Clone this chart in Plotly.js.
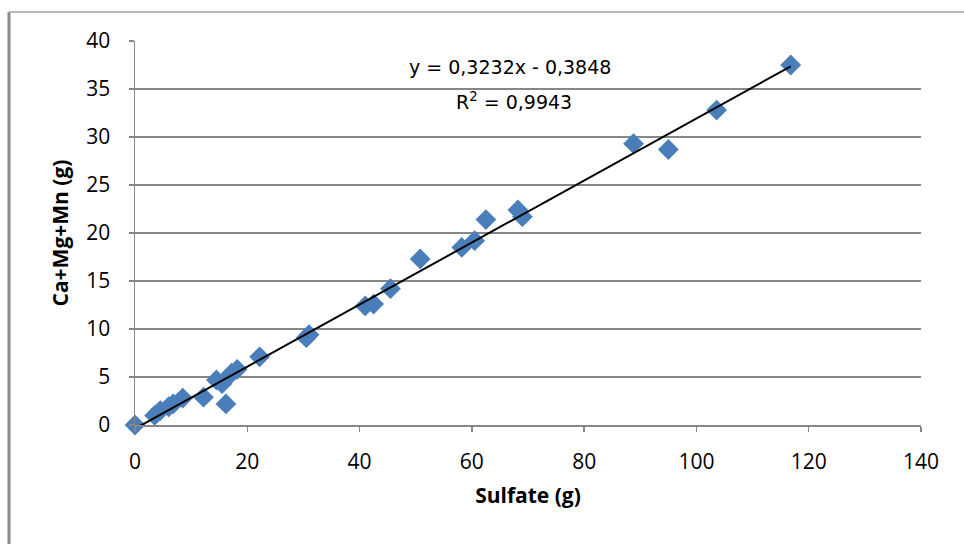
<!DOCTYPE html>
<html>
<head>
<meta charset="utf-8">
<script src="https://cdn.plot.ly/plotly-3.0.1.min.js"></script>
<style>html,body{margin:0;padding:0;background:#fff;}#chart{width:964px;height:544px;}</style>
</head>
<body>
<div id="chart"></div>
<script>
// Sulfate (g) on x, Ca+Mg+Mn (g) on y
const sulfate = [0, 3.5, 4.5, 6.0, 6.8, 8.5, 12.2, 14.5, 15.5, 16.2, 17.2, 18.2, 22.2, 30.5, 31.0,
                 41.0, 42.5, 45.5, 50.8, 58.2, 60.5, 62.5, 68.2, 69.0, 88.8, 95.0, 103.6, 116.8];
const camgmn  = [0, 1.0, 1.5, 1.9, 2.2, 2.8, 2.9, 4.7, 4.3, 2.2, 5.4, 5.8, 7.1, 9.1, 9.4,
                 12.4, 12.6, 14.2, 17.3, 18.5, 19.2, 21.4, 22.4, 21.7, 29.3, 28.7, 32.8, 37.5];
const slope = 0.3232;
const intercept = -0.3848;
const r2 = 0.9943;
const xTicks = [0, 20, 40, 60, 80, 100, 120, 140];
const yTicks = [0, 5, 10, 15, 20, 25, 30, 35, 40];

const xMin = Math.min(...sulfate), xMax = Math.max(...sulfate);
const fmt = v => v.toFixed(4).replace('.', ',');

const traces = [
  {
    x: sulfate, y: camgmn, type: 'scatter', mode: 'markers',
    marker: {symbol: 'diamond', size: 16, color: '#4A7EBB', line: {width: 0}},
    hoverinfo: 'x+y', cliponaxis: false
  },
  {
    x: [xMin, xMax], y: [slope * xMin + intercept, slope * xMax + intercept],
    type: 'scatter', mode: 'lines', line: {color: '#000000', width: 2},
    hoverinfo: 'skip', cliponaxis: false
  }
];

const grey = '#878787';
const layout = {
  width: 964, height: 544,
  margin: {l: 135, r: 43, t: 41, b: 119},
  paper_bgcolor: '#ffffff', plot_bgcolor: '#ffffff',
  showlegend: false,
  font: {family: '"Open Sans", sans-serif', color: '#000000'},
  xaxis: {
    range: [0, 140], tickvals: xTicks, ticktext: xTicks.map(String),
    showgrid: false, zeroline: false,
    showline: true, linecolor: grey, linewidth: 1.5,
    ticks: 'outside', ticklen: 5, tickcolor: grey, tickwidth: 1.5,
    tickfont: {size: 21, family: '"Open Sans", sans-serif', color: '#000'},
    ticklabelstandoff: 12,
    title: {text: '<b>Sulfate (g)</b>', font: {size: 21, family: '"Open Sans", sans-serif', color: '#000'}, standoff: 14},
    automargin: false, fixedrange: true
  },
  yaxis: {
    range: [0, 40], tickvals: yTicks, ticktext: yTicks.map(String),
    showgrid: true, gridcolor: grey, gridwidth: 1.5, zeroline: false,
    showline: true, linecolor: grey, linewidth: 1.5,
    ticks: 'outside', ticklen: 5, tickcolor: grey, tickwidth: 1.5,
    tickfont: {size: 21, family: '"Open Sans", sans-serif', color: '#000'},
    ticklabelstandoff: 14,
    title: {text: '<b>Ca+Mg+Mn (g)</b>', font: {size: 21, family: '"Open Sans", sans-serif', color: '#000'}, standoff: 12},
    automargin: false, fixedrange: true
  },
  annotations: [
    {xref: 'x', yref: 'y', x: 66.8, y: 37.3, text: 'y = ' + fmt(slope) + 'x - ' + fmt(-intercept),
     showarrow: false, font: {family: '"DejaVu Sans", Verdana, sans-serif', size: 19, color: '#000'}},
    {xref: 'x', yref: 'y', x: 67.5, y: 33.7, text: 'R<sup>2</sup> = ' + fmt(r2),
     showarrow: false, font: {family: '"DejaVu Sans", Verdana, sans-serif', size: 19, color: '#000'}}
  ],
  shapes: [
    {type: 'line', xref: 'paper', yref: 'paper', x0: -0.1603, x1: -0.1603, y0: 1.0755, y1: -0.32,
     line: {color: '#8a8a8a', width: 3}},
    {type: 'line', xref: 'paper', yref: 'paper', x0: -0.1603, x1: 1.06, y0: 1.0755, y1: 1.0755,
     line: {color: '#a0a0a0', width: 1.5}}
  ]
};

Plotly.newPlot('chart', traces, layout, {displayModeBar: false, staticPlot: true});
</script>
</body>
</html>
